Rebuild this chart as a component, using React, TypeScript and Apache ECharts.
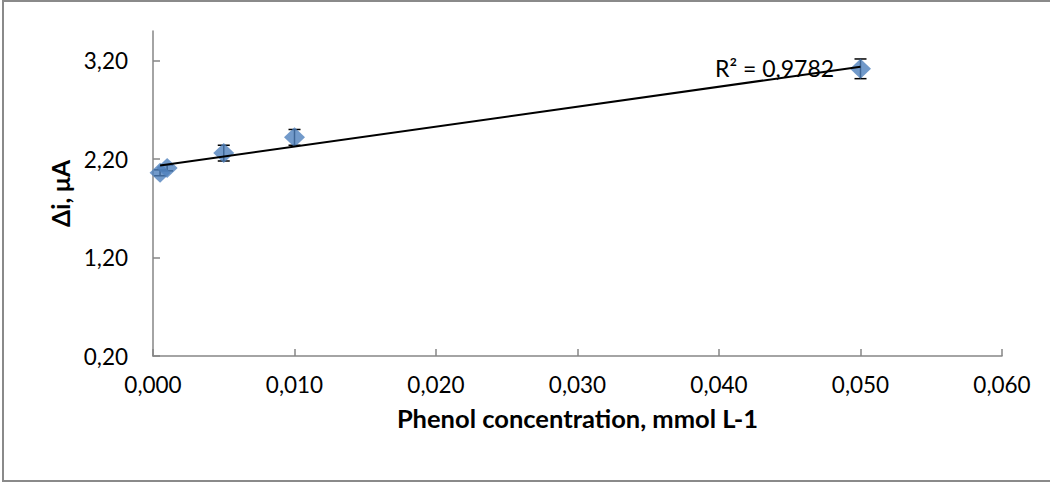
import React, { useEffect, useRef } from "react";
import * as echarts from "echarts";

const concentrations = [0.0005, 0.001, 0.005, 0.01, 0.05];
const currents = [2.06, 2.11, 2.26, 2.42, 3.116];
const errors = [0.03, 0.03, 0.08, 0.08, 0.1];
const yTicks = [0.2, 1.2, 2.2, 3.2];
const xTitle = "Phenol concentration, mmol L-1";
const yTitle = "Δi, μA";
const r2Label = "R² = 0,9782";

const FONT = "Lato";

function regression(xs: number[], ys: number[]) {
  const n = xs.length;
  const mx = xs.reduce((a, b) => a + b, 0) / n;
  const my = ys.reduce((a, b) => a + b, 0) / n;
  let sxy = 0;
  let sxx = 0;
  for (let i = 0; i < n; i++) {
    sxy += (xs[i] - mx) * (ys[i] - my);
    sxx += (xs[i] - mx) * (xs[i] - mx);
  }
  const slope = sxy / sxx;
  return { slope, intercept: my - slope * mx };
}

export default function App() {
  const ref = useRef<HTMLDivElement>(null);
  useEffect(() => {
    if (!ref.current) return;
    const chart = echarts.init(ref.current, null, { renderer: "svg" });
    const { slope, intercept } = regression(concentrations, currents);
    const xMin = Math.min(...concentrations);
    const xMax = Math.max(...concentrations);
    const trend = [
      [xMin, intercept + slope * xMin],
      [xMax, intercept + slope * xMax],
    ];
    const points = concentrations.map((x, i) => [x, currents[i]]);
    const errData = concentrations.map((x, i) => [x, currents[i] - errors[i], currents[i] + errors[i]]);

    chart.setOption({
      animation: false,
      backgroundColor: "#fff",
      grid: { left: 153, right: 48, top: 31, bottom: 128, containLabel: false },
      xAxis: {
        type: "value",
        min: 0,
        max: 0.06,
        interval: 0.01,
        name: xTitle,
        nameLocation: "middle",
        nameGap: 49,
        nameTextStyle: { fontFamily: FONT, fontWeight: "bold", fontSize: 25.5, color: "#000" },
        axisLine: { lineStyle: { color: "#868686", width: 1.5 } },
        axisTick: { inside: true, length: 7, lineStyle: { color: "#868686", width: 1.5 } },
        axisLabel: {
          fontFamily: FONT,
          fontSize: 22.5,
          color: "#000",
          margin: 17,
          formatter: (v: number) => v.toFixed(3).replace(".", ","),
        },
        splitLine: { show: false },
      },
      yAxis: {
        type: "value",
        min: 0.2,
        max: 3.5,
        name: yTitle,
        nameLocation: "middle",
        nameGap: 73,
        nameRotate: 90,
        nameTextStyle: { fontFamily: FONT, fontWeight: "bold", fontSize: 24.5, color: "#000" },
        axisLine: { show: true, lineStyle: { color: "#868686", width: 1.5 } },
        axisTick: { show: true, inside: true, length: 7, customValues: yTicks, lineStyle: { color: "#868686", width: 1.5 } },
        axisLabel: {
          fontFamily: FONT,
          fontSize: 22.5,
          color: "#000",
          margin: 25,
          customValues: yTicks,
          formatter: (v: number) => v.toFixed(2).replace(".", ","),
        },
        splitLine: { show: false },
      },
      graphic: [
        {
          type: "rect",
          shape: { x: 3, y: 1, width: 1060, height: 480 },
          style: { fill: "none", stroke: "#8a8a8a", lineWidth: 2 },
          silent: true,
          z: 0,
        },
        {
          type: "text",
          x: 715,
          y: 68,
          style: {
            text: r2Label,
            fontFamily: FONT,
            fontSize: 23,
            fill: "#000",
            verticalAlign: "middle",
            align: "left",
          },
          z: 10,
        },
      ],
      series: [
        {
          type: "custom",
          data: errData,
          z: 1,
          renderItem: (params: any, api: any) => {
            const x = api.value(0);
            const lo = api.coord([x, api.value(1)]);
            const hi = api.coord([x, api.value(2)]);
            const c = 6;
            const style = { stroke: "#000", lineWidth: 1.5 };
            return {
              type: "group",
              children: [
                { type: "line", shape: { x1: lo[0], y1: lo[1], x2: hi[0], y2: hi[1] }, style },
                { type: "line", shape: { x1: lo[0] - c, y1: lo[1], x2: lo[0] + c, y2: lo[1] }, style },
                { type: "line", shape: { x1: hi[0] - c, y1: hi[1], x2: hi[0] + c, y2: hi[1] }, style },
              ],
            };
          },
        },
        {
          type: "scatter",
          data: points,
          symbol: "diamond",
          symbolSize: [21, 20],
          itemStyle: { color: "#4F81BD" },
          z: 2,
        },
        {
          type: "line",
          data: trend,
          symbol: "none",
          lineStyle: { color: "#000", width: 2 },
          z: 3,
        },
      ],
    });
    return () => chart.dispose();
  }, []);
  return (
    <div
      ref={ref}
      style={{ position: "fixed", left: 0, top: 0, width: 1050, height: 484 }}
    />
  );
}
